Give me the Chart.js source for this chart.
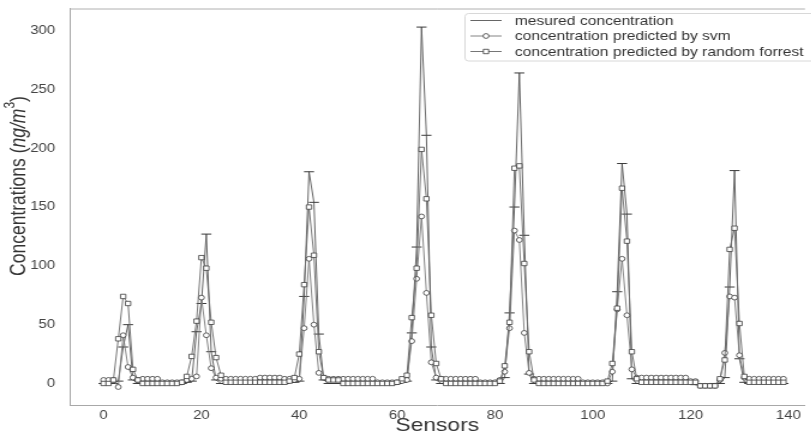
<!DOCTYPE html>
<html lang="en">
<head>
<meta charset="UTF-8">
<title>Sensor concentrations</title>
<style>
  html, body { margin: 0; padding: 0; background: #fff; overflow: hidden; }
  /* the figure is stretched sideways, like the exported plot */
  .chartBox { width: 676px; height: 435px; transform: scaleX(1.2); transform-origin: 0 0; }
</style>
</head>
<body>
<div class="chartBox"><canvas id="myChart"></canvas></div>

<script src="https://cdn.jsdelivr.net/npm/chart.js@4"></script>
<script>
// sensor index 0..139
const sensors = Array.from({length: 140}, (_, i) => i);

const measured = [
  0, 0, 0, 2, 31, 50, 3, 0, 0, 0,
  0, 0, 0, 0, 0, 0, 0, 1, 2, 44,
  68, 127, 27, 3, 0, 0, 0, 0, 0, 0,
  0, 0, 0, 0, 0, 0, 0, 0, 1, 1,
  2, 74, 180, 154, 42, 3, 0, 0, 0, 0,
  0, 0, 0, 0, 0, 0, 0, 0, 0, 0,
  0, 1, 2, 43, 116, 303, 211, 31, 3, 0,
  0, 0, 0, 0, 0, 0, 0, 0, 0, 0,
  0, 0, 5, 60, 150, 264, 126, 8, 0, 0,
  0, 0, 0, 0, 0, 0, 0, 0, 0, 0,
  0, 0, 0, 0, 2, 78, 187, 144, 4, 0,
  0, 0, 0, 0, 0, 0, 0, 0, 0, 0,
  0, -1, -1, -1, -1, 0, 0, 5, 82, 181,
  21, 1, 0, 0, 0, 0, 0, 0, 0, 0
];
const svmPred = [
  3, 3, 3, -3, 41, 14, 5, 3, 4, 4,
  4, 4, 1, 1, 1, 1, 1, 3, 4, 6,
  73, 41, 13, 5, 4, 4, 4, 4, 4, 4,
  4, 4, 5, 5, 5, 5, 5, 4, 4, 3,
  4, 47, 106, 50, 9, 5, 4, 4, 4, 4,
  4, 4, 4, 4, 4, 4, 1, 1, 1, 1,
  1, 2, 3, 36, 89, 142, 77, 18, 5, 4,
  4, 4, 4, 4, 4, 4, 4, 1, 1, 1,
  1, 3, 10, 47, 130, 122, 43, 9, 4, 4,
  4, 4, 4, 4, 4, 4, 4, 4, 1, 1,
  1, 1, 1, 0, 10, 63, 106, 58, 12, 5,
  5, 5, 5, 5, 5, 5, 5, 5, 5, 5,
  2, 2, -2, -2, -2, -2, 3, 26, 74, 73,
  24, 5, 4, 4, 4, 4, 4, 4, 4, 4
];
const rfPred = [
  0, 0, 3, 38, 74, 68, 12, 3, 0, 0,
  0, 0, 0, 0, 0, 0, 1, 6, 23, 53,
  107, 98, 52, 22, 7, 1, 1, 1, 1, 1,
  1, 1, 1, 1, 1, 1, 1, 1, 2, 5,
  25, 84, 150, 109, 27, 5, 3, 3, 3, 0,
  0, 0, 0, 0, 0, 0, 0, 0, 0, 0,
  1, 4, 7, 56, 98, 199, 157, 58, 17, 4,
  0, 0, 0, 0, 0, 0, 0, 0, 0, 0,
  0, 2, 15, 52, 183, 185, 102, 27, 3, 0,
  0, 0, 0, 0, 0, 0, 0, 0, 0, 0,
  0, 0, 0, 2, 17, 64, 166, 121, 27, 4,
  1, 1, 1, 1, 1, 1, 1, 1, 1, 1,
  1, 1, -2, -2, -2, -2, 4, 20, 114, 132,
  51, 6, 1, 1, 1, 1, 1, 1, 1, 1
];

const seriesNames = ['mesured concentration', 'concentration predicted by svm', 'concentration predicted by random forrest'];
const xTicks = [0, 20, 40, 60, 80, 100, 120, 140];
const yTicks = [0, 50, 100, 150, 200, 250, 300];

const FONT = '"Liberation Sans", Arial, sans-serif';
const markerEdge = '#3a3a3a';

function pts(values) {
  return values.map((v, i) => ({x: sensors[i], y: v}));
}

// top spine, y axis title with italic unit, and the legend box
const decorations = {
  id: 'decorations',
  afterDraw(chart) {
    const ctx = chart.ctx;
    const a = chart.chartArea;
    ctx.save();
    ctx.strokeStyle = '#b0b0b0';
    ctx.lineWidth = 1;
    ctx.beginPath();
    ctx.moveTo(a.left, a.top + 0.5);
    ctx.lineTo(a.right, a.top + 0.5);
    ctx.stroke();

    // y title
    ctx.translate(16, 186);
    ctx.rotate(-Math.PI / 2);
    ctx.fillStyle = '#333';
    ctx.textBaseline = 'middle';
    const parts = [
      {t: 'Concentrations (', f: '17.5px ' + FONT, dy: 0},
      {t: 'ng/m', f: 'italic 17.5px ' + FONT, dy: 0},
      {t: '3', f: '12px ' + FONT, dy: -7},
      {t: ')', f: '17.5px ' + FONT, dy: 0}
    ];
    let total = 0;
    parts.forEach(p => { ctx.font = p.f; p.w = ctx.measureText(p.t).width; total += p.w; });
    let x = -total / 2;
    ctx.textAlign = 'left';
    parts.forEach(p => { ctx.font = p.f; ctx.fillText(p.t, x, p.dy); x += p.w; });
    ctx.restore();

    // legend
    ctx.save();
    const bx = 387.5, by = 13.5, bw = 300, bh = 47.5;
    ctx.fillStyle = 'rgba(255,255,255,0.85)';
    ctx.strokeStyle = '#d8d8d8';
    ctx.lineWidth = 1;
    ctx.beginPath();
    ctx.roundRect(bx, by, bw, bh, 3);
    ctx.fill();
    ctx.stroke();
    const rows = [20.5, 36, 51.5];
    const styles = ['line', 'circle', 'rect'];
    chart.data.datasets.forEach((ds, k) => {
      const y = rows[k];
      ctx.strokeStyle = ds.borderColor;
      ctx.lineWidth = 0.9;
      ctx.beginPath();
      ctx.moveTo(392, y);
      ctx.lineTo(418, y);
      ctx.stroke();
      if (styles[k] !== 'line') {
        ctx.fillStyle = '#fff';
        ctx.strokeStyle = markerEdge;
        ctx.lineWidth = 0.8;
        ctx.beginPath();
        if (styles[k] === 'circle') {
          ctx.arc(405, y, ds.pointRadius, 0, Math.PI * 2);
        } else {
          const s = ds.pointRadius * Math.SQRT1_2;
          ctx.rect(405 - s, y - s, 2 * s, 2 * s);
        }
        ctx.fill();
        ctx.stroke();
      }
      ctx.fillStyle = '#333';
      ctx.font = '13px ' + FONT;
      ctx.textBaseline = 'middle';
      ctx.fillText(ds.label, 429, y + 0.5);
    });
    ctx.restore();
  }
};

const ctx = document.getElementById('myChart').getContext('2d');
new Chart(ctx, {
  type: 'line',
  data: {
    datasets: [
      {
        label: seriesNames[0], data: pts(measured), order: 3,
        borderColor: '#555', borderWidth: 0.9,
        pointStyle: 'line', pointRadius: 4.2, pointBorderColor: markerEdge, pointBorderWidth: 1
      },
      {
        label: seriesNames[1], data: pts(svmPred), order: 2,
        borderColor: '#777', borderWidth: 0.9,
        pointStyle: 'circle', pointRadius: 2.4, pointBackgroundColor: '#fff',
        pointBorderColor: markerEdge, pointBorderWidth: 0.8
      },
      {
        label: seriesNames[2], data: pts(rfPred), order: 1,
        borderColor: '#666', borderWidth: 0.9,
        pointStyle: 'rect', pointRadius: 3.1, pointBackgroundColor: '#fff',
        pointBorderColor: markerEdge, pointBorderWidth: 0.8
      }
    ]
  },
  options: {
    responsive: true,
    maintainAspectRatio: false,
    animation: false,
    events: [],
    layout: {padding: 0},
    elements: {line: {tension: 0}},
    plugins: {legend: {display: false}, tooltip: {enabled: false}},
    scales: {
      x: {
        type: 'linear', min: -6.95, max: 143.4,
        afterBuildTicks: s => { s.ticks = xTicks.map(v => ({value: v})); },
        afterFit: s => { s.height = 30; },
        grid: {display: false, drawTicks: false},
        border: {color: '#a8a8a8', width: 1},
        ticks: {color: '#444', font: {family: FONT, size: 12.5}, padding: 3, maxRotation: 0},
        title: {display: true, text: 'Sensors', color: '#333', font: {family: FONT, size: 19, lineHeight: 1}, padding: {top: 0, bottom: 0}}
      },
      y: {
        min: -18.3, max: 318.8,
        afterBuildTicks: s => { s.ticks = yTicks.map(v => ({value: v})); },
        afterFit: s => { s.width = 58; s.paddingTop = 8.5; s.paddingBottom = 0; },
        grid: {display: false, drawTicks: false},
        border: {color: '#a8a8a8', width: 1},
        ticks: {color: '#444', font: {family: FONT, size: 12.5}, padding: 12}
      }
    }
  },
  plugins: [decorations]
});
</script>
</body>
</html>
